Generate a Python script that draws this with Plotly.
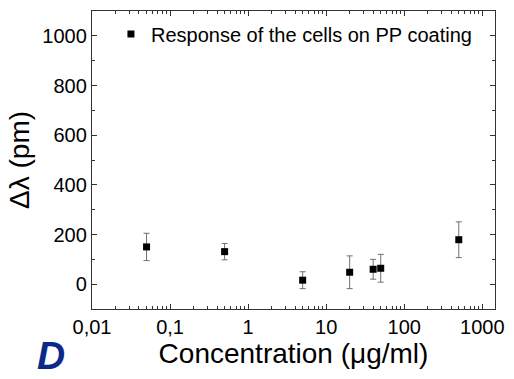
import plotly.graph_objects as go

conc = [0.05, 0.5, 5, 20, 40, 50, 500]
shift = [150, 131, 16, 48, 60, 64, 179]
err = [55, 33, 34, 66, 40, 56, 72]
xtick_vals = [0.01, 0.1, 1, 10, 100, 1000]
xtick_text = ["0,01", "0,1", "1", "10", "100", "1000"]
series_name = "Response of the cells on PP coating"

FONT = "Liberation Sans, Arial, sans-serif"

fig = go.Figure()
fig.add_trace(go.Scatter(
    x=conc, y=shift, mode="markers", name=series_name,
    marker=dict(symbol="square", size=7, color="black"),
    error_y=dict(type="data", array=err, visible=True, color="#707070",
                 thickness=1, width=3),
))

axis_common = dict(
    showline=True, linecolor="#333333", linewidth=1.3, mirror="allticks",
    ticks="inside", ticklen=5, tickcolor="#333333", showgrid=False, zeroline=False,
    tickfont=dict(size=20, color="black", family=FONT),
)

fig.update_xaxes(
    type="log", range=[-2, 3.163],
    tickvals=xtick_vals, ticktext=xtick_text,
    title=dict(text="Concentration (μg/ml)", font=dict(size=28, color="black", family=FONT), standoff=2),
    minor=dict(ticks="inside", ticklen=3, tickcolor="#333333", dtick="D1", showgrid=False),
    **axis_common,
)
fig.update_yaxes(
    range=[-100, 1100], tickvals=[0, 200, 400, 600, 800, 1000],
    title=dict(text="Δλ (pm)", font=dict(size=28, color="black", family=FONT), standoff=4),
    minor=dict(ticks="inside", ticklen=3, tickcolor="#333333", dtick=100, showgrid=False),
    **axis_common,
)

fig.add_annotation(
    text="<b><i>D</i></b>", xref="paper", yref="paper", x=-0.102, y=-0.234,
    xanchor="center", yanchor="bottom", showarrow=False,
    font=dict(size=39, color="#0c2a8a", family=FONT),
)

fig.update_layout(
    width=514, height=379,
    margin=dict(l=92, r=11, t=10, b=70),
    paper_bgcolor="white", plot_bgcolor="white",
    showlegend=True,
    legend=dict(x=0.047, y=0.988, xanchor="left", yanchor="top",
                bgcolor="rgba(0,0,0,0)", font=dict(size=20, color="black", family=FONT)),
    font=dict(family=FONT),
)

fig.write_html("out.html")
